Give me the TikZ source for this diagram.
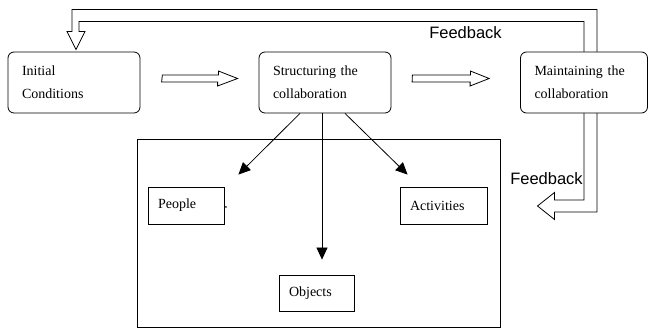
\documentclass[tikz,border=0pt]{standalone}
\usepackage{fontspec}
\setmainfont{Liberation Serif}
\newfontfamily\fbfont{Liberation Sans}
\usetikzlibrary{arrows.meta,calc,backgrounds}
\tikzset{
  flowfig/.style={x=1pt,y=-1pt,line width=0.8pt,
    >={Triangle[length=12pt,width=11pt]},
    every node/.style={font=\fontsize{14}{23}\selectfont}},
  stagebox/.style={draw,rounded corners=6pt,fill=white,minimum height=61pt,
    inner xsep=14pt,align=left},
  itembox/.style={draw,minimum height=37pt,inner xsep=10pt,align=left},
  hollowarrow/.style={draw,line width=0.8pt,line join=miter},
  fbnote/.style={font=\fbfont\fontsize{16.5}{18}\selectfont},
}

\begin{document}
\begin{tikzpicture}[flowfig]
  \useasboundingbox (0,0) rectangle (649,331);
  \node[stagebox,text width=104pt] (init) at (74,82.5) {Initial\\Conditions};
  \node[stagebox,text width=104pt] (struct) at (325,82.5)
    {Structuring the\\collaboration};
  \node[stagebox,text width=99pt] (maint) at (584,82.5)
    {Maintaining the\\collaboration};

  \node[draw,line width=1pt,minimum width=363pt,minimum height=188pt,
    inner sep=0pt] (frame) at (318.5,234) {};
  \node[itembox,text width=56pt] (people) at (186,205.5) {People};
  \node[itembox,text width=67pt] (activities) at (443.5,205.5) {Activities};
  \node[itembox,text width=55pt,minimum height=36pt] (objects) at (316.5,293)
    {Objects};
  \fill ($(people.east)+(1.5,1.5)$) circle (0.9);

  % stage to stage
  \draw[hollowarrow] ($(init.east)+(22,-7.5)$) -- ++(56,0) -- ++(0,-4)
    -- ($(struct.west)+(-21,-4)$) -- ++(-20,7.5) -- ++(0,-4) -- ++(-56,0)
    -- cycle;
  \draw[hollowarrow] ($(struct.east)+(21,-7.5)$) -- ++(58,0) -- ++(0,-4)
    -- ($(maint.west)+(-31,-4)$) -- ++(-19,7.5) -- ++(0,-4) -- ++(-58,0)
    -- cycle;

  % structuring parts
  \draw[->] ($(struct.south)+(-25,0)$) -- ($(people.north east)+(14,-12)$);
  \draw[->] ($(struct.south)+(-3,0)$) -- ($(objects.north)+(5.5,-15)$);
  \draw[->] ($(struct.south)+(20,0)$) -- ($(activities.north west)+(8,-12)$);

  % feedback loop
  \coordinate (fbin) at ($(init.north)+(2,-2)$);
  \coordinate (fbout) at ($(frame.east)+(37,-28)$);
  \begin{scope}[on background layer]
    \draw[hollowarrow] (fbin) -- ++(-9,-18) -- ++(5,0)
      |- ($(maint.north)+(13,-42)$) |- ($(fbout)+(17,6)$) -- ++(0,7.5)
      -- (fbout) -- ++(17,-13.5) -- ++(0,7.5)
      -| ($(maint.north)+(0,-30)$) -| ($(fbin)+(3,-18)$) -- ++(6,0) -- cycle;
  \end{scope}
  \node[fbnote] (fbtoplabel) at (465.5,33) {Feedback};
  \node[fbnote] (fbsidelabel) at (546.5,179) {Feedback};
\end{tikzpicture}
\end{document}
